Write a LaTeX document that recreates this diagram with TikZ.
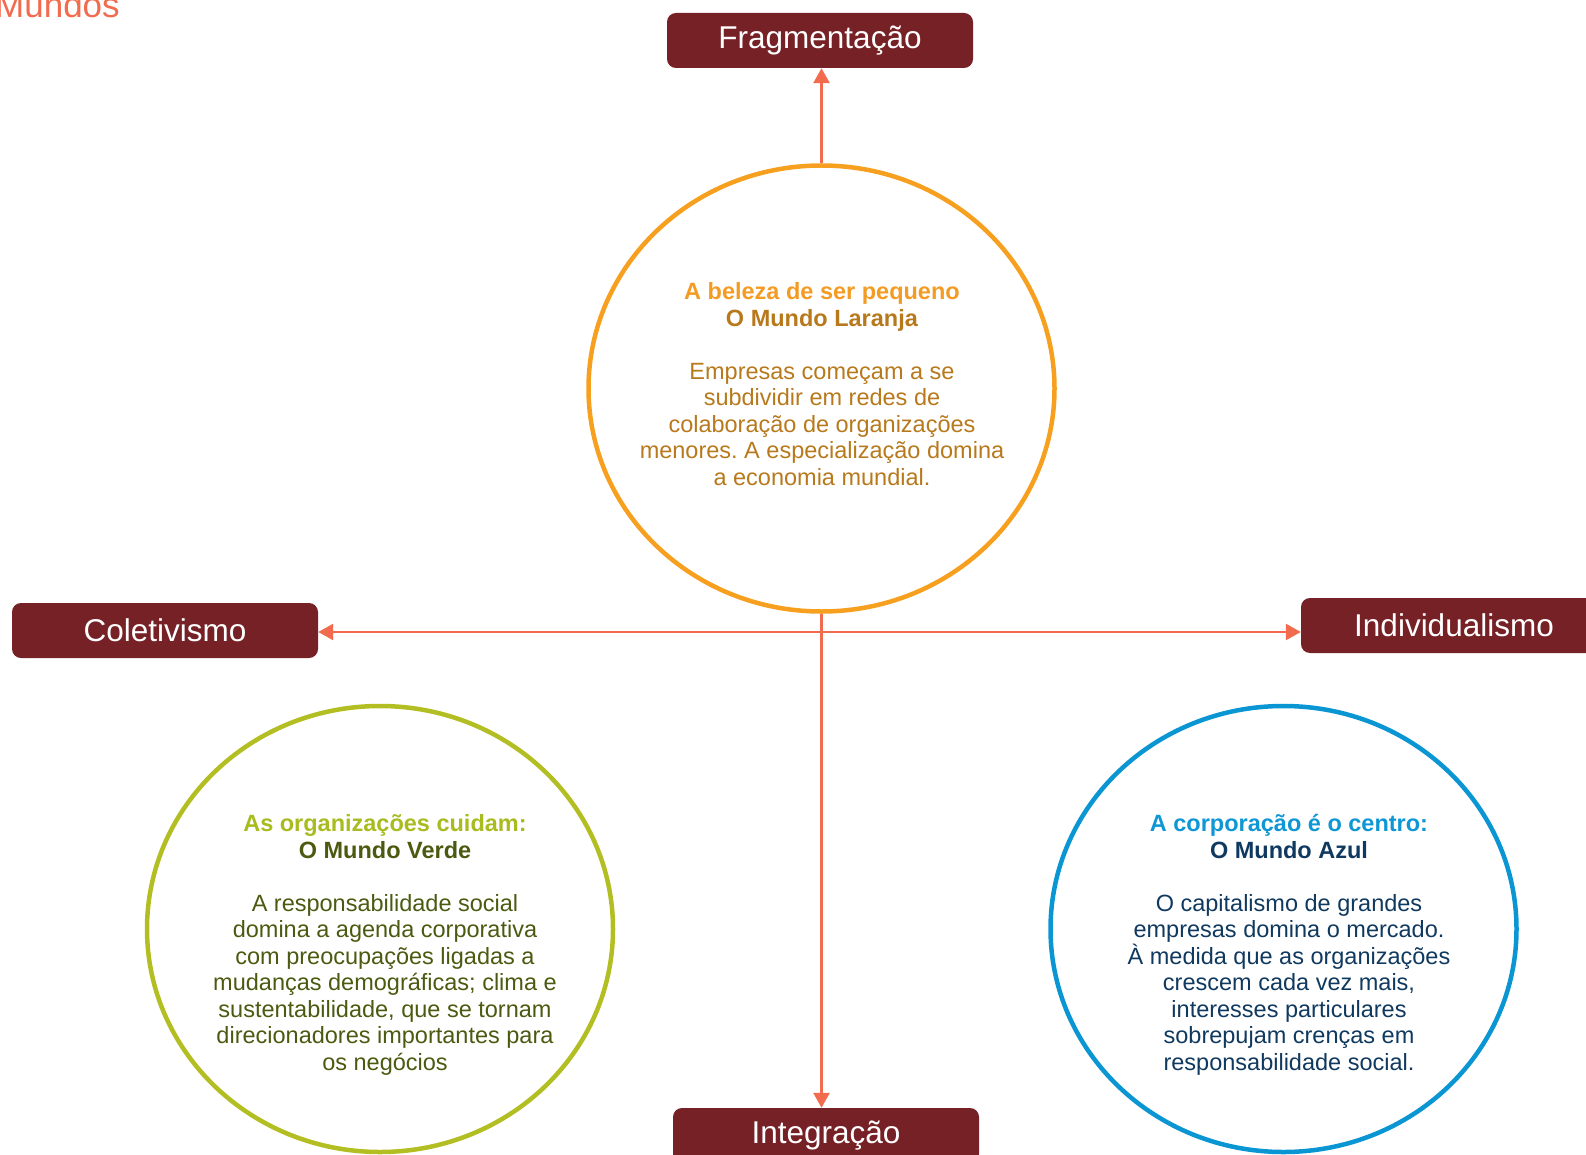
\documentclass[tikz,border=0pt]{standalone}
\usepackage{fontspec}
\setmainfont{Liberation Sans}
\usepackage{xcolor}
\usepackage{tikz}
\usetikzlibrary{arrows.meta,shapes.geometric}
\frenchspacing
\definecolor{wine}{HTML}{762126}
\definecolor{coral}{HTML}{F26B4E}
\definecolor{laranjaC}{HTML}{F7A020}
\definecolor{laranjaT}{HTML}{F49B24}
\definecolor{laranjaE}{HTML}{B7791C}
\definecolor{verdeC}{HTML}{B3BE22}
\definecolor{verdeT}{HTML}{A8BB1F}
\definecolor{verdeE}{HTML}{4B5A10}
\definecolor{azulC}{HTML}{0A95D3}
\definecolor{azulT}{HTML}{0E97D4}
\definecolor{azulE}{HTML}{10395F}
\tikzset{
  ponta/.tip={Triangle[width=16pt,length=15pt]},
  eixo/.style={rectangle, rounded corners=9pt, fill=wine, text=white, inner sep=0pt,
    minimum width=306pt, minimum height=55pt, font=\fontsize{31.5}{36}\selectfont},
  mundo/.style={ellipse, line width=4.5pt, minimum width=466pt, minimum height=446pt, inner sep=0pt},
  txt/.style={align=center, inner sep=0pt, font=\fontsize{23.5}{26.5}\selectfont},
  seta/.style={draw=coral, line width=2.6pt, -ponta},
  dupla/.style={draw=coral, line width=2.6pt, ponta-ponta}
}
\begin{document}
\begin{tikzpicture}[x=1pt,y=-1pt]
  \useasboundingbox (0,0) rectangle (1586,1155);

  \node[inner sep=0pt, anchor=base west, text=coral, font=\fontsize{35}{40}\selectfont] (mundos) at (-5,18) {Mundos};

  \node[eixo] (frag) at (820,40.5) {Fragmentação};
  \node[eixo] (colet) at (165,630.5) {Coletivismo};
  \node[eixo] (indiv) at (1454,625.5) {Individualismo};
  \node[eixo] (integ) at (826,1135.5) {Integração};

  \node[mundo, draw=laranjaC] (laranja) at (821.5,388.5) {};
  \node[mundo, draw=verdeC] (verde) at (380,929) {};
  \node[mundo, draw=azulC] (azul) at (1283.5,929) {};

  \coordinate (cruz) at (821.5,632);
  \draw[seta] (laranja.north) -- (laranja.north |- frag.south);
  \draw[seta] (laranja.south) -- (laranja.south |- integ.north);
  \draw[dupla] (cruz -| colet.east) -- (cruz -| indiv.west);

  \node[txt, text=laranjaE] (laranjaTxt) at (822,384) {\textbf{\textcolor{laranjaT}{A beleza de ser pequeno}}\\
    \textbf{O Mundo Laranja}\\[26.5pt]
    Empresas começam a se\\ subdividir em redes de\\ colaboração de organizações\\
    menores. A especialização domina\\ a economia mundial.};
  \node[txt, text=verdeE] (verdeTxt) at (385,945) {\textbf{\textcolor{verdeT}{As organizações cuidam:}}\\
    \textbf{O Mundo Verde}\\[26.5pt]
    A responsabilidade social\\ domina a agenda corporativa\\ com preocupações ligadas a\\
    mudanças demográficas; clima e\\ sustentabilidade, que se tornam\\
    direcionadores importantes para\\ os negócios};
  \node[txt, text=azulE] (azulTxt) at (1289,945) {\textbf{\textcolor{azulT}{A corporação é o centro:}}\\
    \textbf{O Mundo Azul}\\[26.5pt]
    O capitalismo de grandes\\ empresas domina o mercado.\\ À medida que as organizações\\
    crescem cada vez mais,\\ interesses particulares\\ sobrepujam crenças em\\
    responsabilidade social.};
\end{tikzpicture}
\end{document}
